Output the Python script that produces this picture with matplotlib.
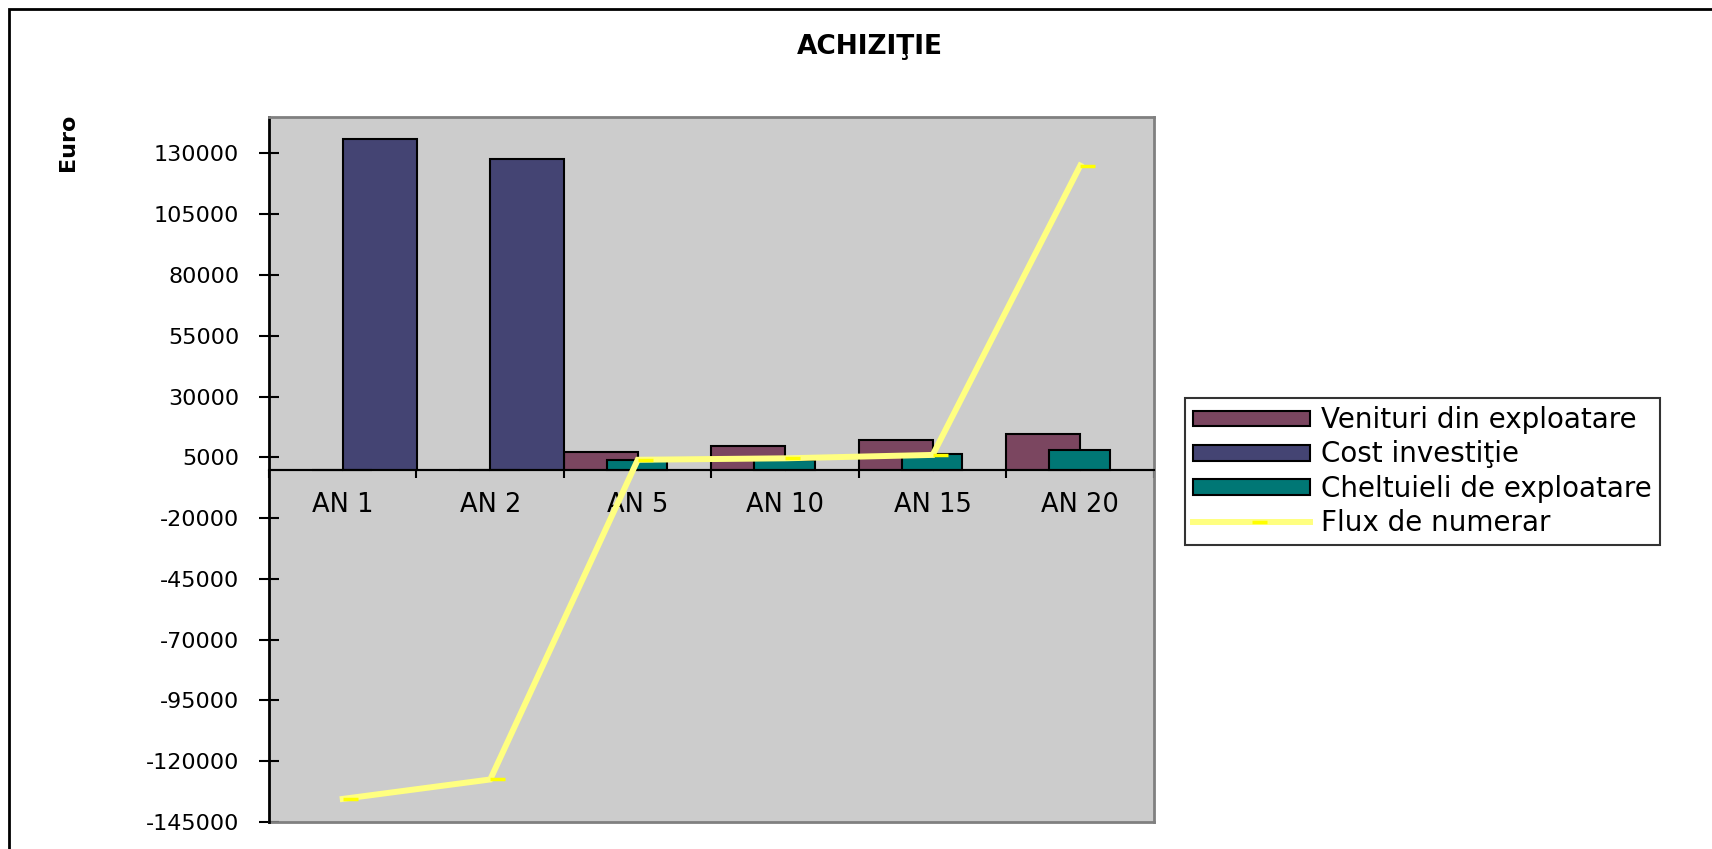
import matplotlib.pyplot as plt
from matplotlib.patches import Rectangle
from matplotlib.path import Path
from matplotlib.lines import Line2D

plt.rcParams['font.family'] = ['DejaVu Sans']

# date
categorii = ['AN 1', 'AN 2', 'AN 5', 'AN 10', 'AN 15', 'AN 20']
venituri = [0, 0, 7300, 9600, 12000, 14800]
cost_investitie = [135800, 127600, 0, 0, 0, 0]
cheltuieli = [0, 0, 4000, 3800, 6300, 8100]
flux = [-135500, -127500, 4000, 4600, 6000, 125000]
y_ticks = list(range(-145000, 130001, 25000))

W, H = 1712, 849
fig = plt.figure(figsize=(W / 100, H / 100), dpi=100)
fig.patch.set_facecolor('white')

# chenarul figurii
fig.patches.append(Rectangle((9 / W, -0.1), 1.2, 1 - 9 / H + 0.1, transform=fig.transFigure,
                             fill=False, edgecolor='black', lw=2))

ax = fig.add_axes([269 / W, 1 - 822 / H, 885 / W, 705 / H])
ax.set_facecolor('#CCCCCC')

n = len(categorii)
x = list(range(n))
b1 = ax.bar(x, venituri, width=0.5, align='edge', color='#7B4660', edgecolor='black', lw=1.5)
b2 = ax.bar([i + 0.5 for i in x], cost_investitie, width=0.5, align='edge', color='#444473',
            edgecolor='black', lw=1.5)
b3 = ax.bar([i + 0.29 for i in x], cheltuieli, width=0.41, align='edge', color='#007775',
            edgecolor='black', lw=1.5)

# marker liniuta spre dreapta, ca in Excel
dash = Path([(0, 0), (1, 0)], [Path.MOVETO, Path.LINETO])
ln, = ax.plot([i + 0.5 for i in x], flux, color='#FFFF80', lw=4.3, marker=dash, markersize=22,
              markeredgecolor='#FFFF00', markeredgewidth=2.5, solid_joinstyle='miter', zorder=5)

ax.set_xlim(0, n)
ax.set_ylim(-145000, 145000)
ax.set_yticks(y_ticks)
ax.set_yticklabels([str(v) for v in y_ticks])
ax.tick_params(axis='y', direction='inout', length=15, width=1.5, pad=14, labelsize=16)

ax.spines['bottom'].set_position(('data', 0))
ax.spines['bottom'].set_color('black')
ax.spines['bottom'].set_linewidth(1.5)
ax.spines['left'].set_color('black')
ax.spines['left'].set_linewidth(2)
for s in ['top', 'right']:
    ax.spines[s].set_color('#808080')
    ax.spines[s].set_linewidth(2)
ax.add_line(Line2D([0, 1], [0, 0], transform=ax.transAxes, color='#808080', lw=2, clip_on=False))

ax.set_xticks([i + 0.5 for i in x])
ax.set_xticklabels(categorii)
ax.set_xticks(list(range(n + 1)), minor=True)
ax.tick_params(axis='x', which='major', length=0, pad=16, labelsize=18.5)
ax.tick_params(axis='x', which='minor', direction='out', length=5.5, width=1.5)

fig.text(870 / W, 1 - 47 / H, 'ACHIZIŢIE', ha='center', va='center', fontsize=19, fontweight='bold')
fig.text(68 / W, 1 - 142 / H, 'Euro', ha='center', va='center', rotation=90, fontsize=16,
         fontweight='bold')

leg = fig.legend([b1, b2, b3, ln],
                 ['Venituri din exploatare', 'Cost investiţie', 'Cheltuieli de exploatare',
                  'Flux de numerar'],
                 loc='upper left', bbox_to_anchor=(1185 / W, 1 - 398 / H), fontsize=20,
                 frameon=True, fancybox=False, edgecolor='black', handlelength=4.2,
                 handleheight=0.5, labelspacing=0.22, handletextpad=0.4, borderpad=0.3,
                 borderaxespad=0)
leg.get_frame().set_linewidth(1.5)

fig.savefig('out.png', dpi=100)
